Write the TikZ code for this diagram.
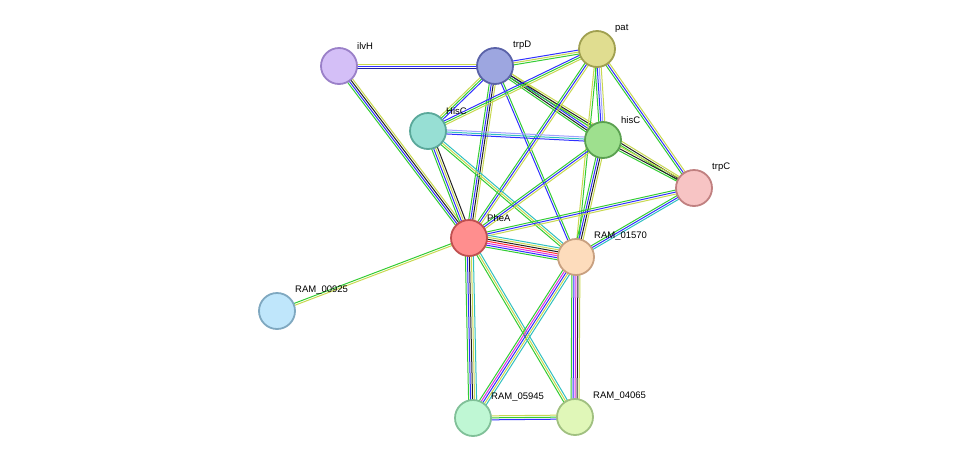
\documentclass[tikz,border=0pt]{standalone}
\usepackage{fontspec}
\setmainfont{Liberation Sans}
\usetikzlibrary{calc}
\definecolor{eg}{HTML}{33CC33}\definecolor{ey}{HTML}{C8D850}\definecolor{eb}{HTML}{3030FF}
\definecolor{ek}{HTML}{222222}\definecolor{em}{HTML}{E030E0}\definecolor{ec}{HTML}{30C0C0}
\definecolor{el}{HTML}{A0A0FF}\definecolor{er}{HTML}{FF3030}\definecolor{ed}{HTML}{2020A0}
\newcommand{\sedge}[3]{\foreach \c [count=\i] in {#3} {\global\let\nn\i}%
 \foreach \c [count=\i] in {#3} {\pgfmathsetmacro{\o}{(\i-(\nn+1)/2)*2}%
 \draw[line width=1pt,draw=\c] ($(#1)!\o pt!90:(#2)$) -- ($(#2)!\o pt!-90:(#1)$);}}
\tikzset{prot/.style={circle,minimum size=36pt,inner sep=0pt,line width=1.8pt},
 lab/.style={font=\fontsize{9.5pt}{10pt}\selectfont,anchor=south west,inner sep=0pt}}
\begin{document}
\begin{tikzpicture}[x=1pt,y=-1pt]
\useasboundingbox (0,0) rectangle (975,464);
\coordinate (ilvH) at (339,66); \coordinate (trpD) at (495,66); \coordinate (pat) at (597,49);
\coordinate (HisC) at (428,131); \coordinate (hisC) at (603,140); \coordinate (trpC) at (694,188);
\coordinate (PheA) at (469,238); \coordinate (R1570) at (576,257); \coordinate (R925) at (277,311);
\coordinate (R5945) at (473,418); \coordinate (R4065) at (575,417);
\sedge{ilvH}{trpD}{ed,eb,ey}
\sedge{ilvH}{PheA}{eg,eb,ek,ey}
\sedge{trpD}{pat}{eg,ey,eb}
\sedge{trpD}{HisC}{ey,eg,eb}
\sedge{trpD}{hisC}{eg,ek,eb,ey}
\sedge{trpD}{trpC}{eg,ek,ey}
\sedge{trpD}{PheA}{eg,eb,ek,ey}
\sedge{trpD}{R1570}{eb,eg}
\sedge{pat}{HisC}{eb,eg,ey}
\sedge{pat}{hisC}{eg,eb,el,ey}
\sedge{pat}{trpC}{eg,eb,ey}
\sedge{pat}{PheA}{eg,eb,ey}
\sedge{pat}{R1570}{ey,eg}
\sedge{HisC}{hisC}{eb,ec,el}
\sedge{HisC}{PheA}{eg,eb,ey,ek}
\sedge{HisC}{R1570}{eg,ey,ec}
\sedge{hisC}{trpC}{eg,ek,ey}
\sedge{hisC}{PheA}{eg,eb,ey}
\sedge{hisC}{R1570}{eg,eb,ek,ey}
\sedge{trpC}{PheA}{eg,eb,ey}
\sedge{trpC}{R1570}{eg,eb,ec}
\sedge{PheA}{R1570}{eg,eb,em,er,ek,ey,ec}
\sedge{PheA}{R925}{eg,ey}
\sedge{PheA}{R5945}{eg,eb,ek,ey,ec}
\sedge{PheA}{R4065}{eg,ey,ec}
\sedge{R1570}{R5945}{eg,em,eb,ey,ec}
\sedge{R1570}{R4065}{eg,eb,em,ek,ey}
\sedge{R5945}{R4065}{eb,eg,ey}
\foreach \n/\f/\d/\t in {ilvH/D4BFF7/9A80C8/ilvH, trpD/9DA6E0/5A62A8/trpD, pat/E0DD90/A0A050/pat,
 HisC/97DFD4/5AA89A/HisC, hisC/9EE08E/5AA050/hisC, trpC/F7C4C4/C08080/trpC, PheA/FF8E8E/C05050/PheA,
 R1570/FDDCBC/C8A080/RAM\_01570, R925/BFE6FB/7FA8C0/RAM\_00925, R5945/BFF7D4/80C098/RAM\_05945,
 R4065/E0F7B8/A0C080/RAM\_04065} {
 \definecolor{nf}{HTML}{\f}\definecolor{nd}{HTML}{\d}
 \node[prot,fill=nf,draw=nd] (n\n) at (\n) {};
 \node[lab] (l\n) at ($(\n)+(18,-16)$) {\t};
}
\end{tikzpicture}
\end{document}
